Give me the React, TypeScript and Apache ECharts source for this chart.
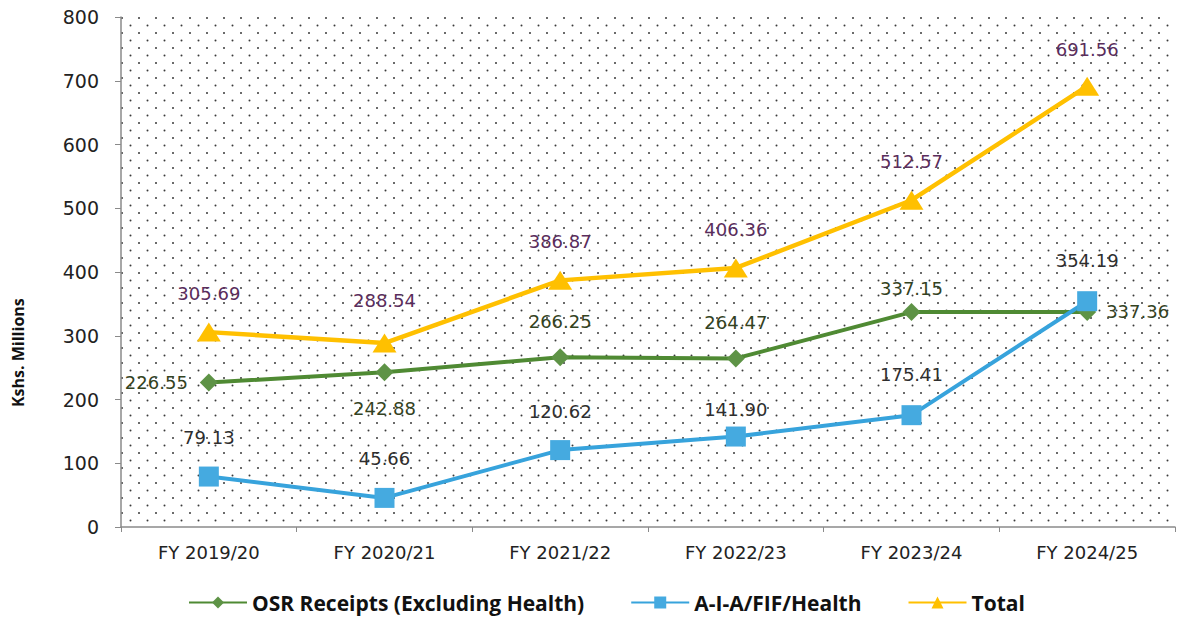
import React, { useEffect, useRef } from "react";
import * as echarts from "echarts";

const categories = ["FY 2019/20", "FY 2020/21", "FY 2021/22", "FY 2022/23", "FY 2023/24", "FY 2024/25"];
const osrReceipts = [226.55, 242.88, 266.25, 264.47, 337.15, 337.36];
const aiaHealth = [79.13, 45.66, 120.62, 141.9, 175.41, 354.19];
const total = [305.69, 288.54, 386.87, 406.36, 512.57, 691.56];
const seriesNames = ["OSR Receipts (Excluding Health)", "A-I-A/FIF/Health", "Total"];

function makeDotPattern(): HTMLCanvasElement {
  const c = document.createElement("canvas");
  c.width = 17;
  c.height = 15;
  const ctx = c.getContext("2d")!;
  ctx.fillStyle = "#ffffff";
  ctx.fillRect(0, 0, 17, 15);
  ctx.fillStyle = "#3a3a3a";
  ctx.beginPath();
  ctx.arc(3, 3, 1.0, 0, Math.PI * 2);
  ctx.fill();
  ctx.beginPath();
  ctx.arc(11.5, 10.5, 1.0, 0, Math.PI * 2);
  ctx.fill();
  return c;
}

export default function App() {
  const ref = useRef<HTMLDivElement>(null);
  useEffect(() => {
    document.body.style.margin = "0";
    if (!ref.current) return;
    const chart = echarts.init(ref.current, undefined, { renderer: "svg" });
    const fmt = (p: any) => Number(p.value).toFixed(2);
    const labelFont = { fontFamily: "DejaVu Sans", fontSize: 18 };

    const osrPos = ["left", "bottom", "top", "top", "top", "right"];
    const osrDist = [12, 18, 18, 18, 6, 10];
    const aiaDist = [20, 20, 20, 8, 22, 22];
    const totDist = [20, 24, 20, 20, 20, 18];

    chart.setOption({
      animation: false,
      backgroundColor: "#ffffff",
      grid: {
        left: 121,
        right: 23,
        top: 17,
        bottom: 93,
        show: true,
        borderWidth: 0,
        backgroundColor: { image: makeDotPattern(), repeat: "repeat" } as any,
      },
      legend: {
        bottom: 2,
        left: 183,
        itemWidth: 58,
        itemHeight: 15,
        itemGap: 46,
        textStyle: { fontFamily: "Open Sans", fontWeight: "bold", fontSize: 21, color: "#111" },
        data: seriesNames,
      },
      xAxis: {
        type: "category",
        data: categories,
        boundaryGap: true,
        axisLine: { lineStyle: { color: "#8a8a8a", width: 1.5 } },
        axisTick: { show: true, length: 5, lineStyle: { color: "#8a8a8a" } },
        axisLabel: { fontFamily: "DejaVu Sans", fontSize: 18, color: "#222", margin: 16 },
      },
      yAxis: {
        type: "value",
        min: 0,
        max: 800,
        interval: 100,
        splitLine: { show: false },
        axisLine: { show: true, lineStyle: { color: "#8a8a8a", width: 1.5 } },
        axisTick: { show: true, length: 6, lineStyle: { color: "#8a8a8a" } },
        axisLabel: { fontFamily: "DejaVu Sans", fontSize: 19, color: "#222", margin: 22 },
      },
      graphic: [
        {
          type: "text",
          x: 10,
          y: 407,
          rotation: Math.PI / 2,
          style: {
            text: "Kshs. Millions",
            fontFamily: "Open Sans",
            fontWeight: "bold",
            fontSize: 16,
            fill: "#111",
          },
        } as any,
      ],
      series: [
        {
          name: seriesNames[0],
          type: "line",
          data: osrReceipts.map((v, i) => ({
            value: v,
            label: { position: osrPos[i], distance: osrDist[i] },
          })),
          symbol: "diamond",
          symbolSize: [18, 18],
          lineStyle: { color: "#4f8a33", width: 4 },
          itemStyle: { color: "#5e9346" },
          label: { show: true, formatter: fmt, color: "#34431f", ...labelFont },
          z: 3,
        },
        {
          name: seriesNames[1],
          type: "line",
          data: aiaHealth.map((v, i) => ({
            value: v,
            label: { position: "top", distance: aiaDist[i] },
          })),
          symbol: "rect",
          symbolSize: 20,
          lineStyle: { color: "#37a3dc", width: 4 },
          itemStyle: { color: "#45aae0" },
          label: { show: true, formatter: fmt, color: "#2e2e2e", ...labelFont },
          z: 4,
        },
        {
          name: seriesNames[2],
          type: "line",
          data: total.map((v, i) => ({
            value: v,
            label: { position: "top", distance: totDist[i] },
          })),
          symbol: "triangle",
          symbolSize: [24, 19],
          lineStyle: { color: "#ffc000", width: 4.5 },
          itemStyle: { color: "#ffc000" },
          label: { show: true, formatter: fmt, color: "#5a2d5c", ...labelFont },
          z: 5,
        },
      ],
    });
    return () => chart.dispose();
  }, []);
  return <div ref={ref} style={{ width: 1198, height: 620 }} />;
}
